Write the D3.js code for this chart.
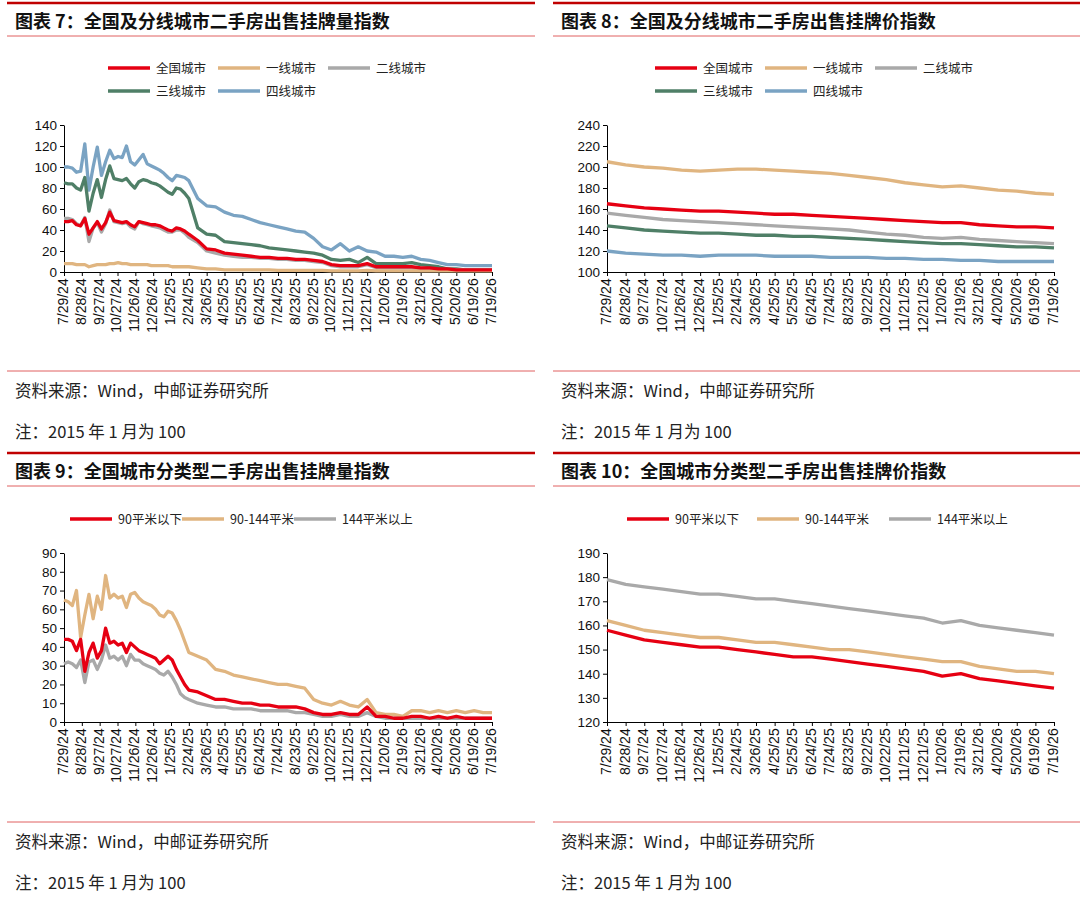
<!DOCTYPE html>
<html><head><meta charset="utf-8">
<script src="https://cdn.jsdelivr.net/npm/d3@7"></script>
<style>body{margin:0;background:#fff}svg{display:block}</style>
</head><body><svg id="c" width="1080" height="908"></svg>
<script>
// ---- data ----
const tickLabels = ["7/29/24","8/28/24","9/27/24","10/27/24","11/26/24","12/26/24","1/25/25","2/24/25","3/26/25","4/25/25","5/25/25","6/24/25","7/24/25","8/23/25","9/22/25","10/22/25","11/21/25","12/21/25","1/20/26","2/19/26","3/21/26","4/20/26","5/20/26","6/19/26","7/19/26"];
// days from 7/29/24: weekly to day 210, then every 15 days
const daysDense = d3.range(0,211,7).concat(d3.range(225,721,15));
const daysMonthly = d3.range(0,721,30);

const vol_all  = [48,48,49,45,44,51,36,42,48,41,47,57,49,48,47,48,45,43,48,47,46,45,45,44,42,40,39,42,41,39,36, 30,22,21,18,17,16,15,14,14,13,13,12,12,11,10,7,6,6,6,8,5,5,5,5,5,4,4,3,3,2,2,2,2,2];
const vol_t1   = [8,8,8,7,7,7,5,6,7,7,7,8,8,9,8,8,7,7,7,7,7,6,6,6,6,6,5,5,5,5,5, 4,3,3,2,2,2,2,2,2,1.5,1.5,1.5,1.5,1.5,1.5,1,1,1,1,1.5,1,1,1,1,1,1,1,1,1,1,1,1,1,1];
const vol_t2   = [51,51,50,46,44,52,29,42,47,38,46,59,48,47,46,47,43,41,48,46,45,44,43,42,40,38,38,40,40,37,33, 28,20,18,16,15,14,14,13,13,12,12,11,11,10,9,6,5,5,5,7,4,4,4,4,4,3,3,2,2,2,2,2,2,2];
const vol_t3   = [85,84,84,80,78,90,58,75,88,71,88,101,89,88,87,89,84,80,86,88,87,85,84,82,79,76,74,80,79,75,70, 42,36,35,29,28,27,26,25,23,22,21,20,19,18,16,12,11,12,9,14,8,8,8,8,9,7,6,5,3,3,2,2,2,2];
const vol_t4   = [100,100,99,95,96,122,78,100,119,92,105,116,108,110,109,120,105,102,107,112,103,101,99,97,94,90,87,92,91,90,87, 70,63,62,57,54,53,50,47,45,43,41,39,38,32,24,21,27,20,24,20,19,15,15,14,15,12,11,9,7,7,6,6,6,6];

const pr_all = [165,163,161,160,159,158,158,157,156,155,155,154,153,152,151,150,149,148,147,147,145,144,143,143,142];
const pr_t1  = [205,202,200,199,197,196,197,198,198,197,196,195,194,192,190,188,185,183,181,182,180,178,177,175,174];
const pr_t2  = [156,154,152,150,149,148,147,146,145,144,143,142,141,140,138,136,135,133,132,133,131,130,129,128,127];
const pr_t3  = [144,142,140,139,138,137,137,136,135,135,134,134,133,132,131,130,129,128,127,127,126,125,124,124,123];
const pr_t4  = [120,118,117,116,116,115,116,116,116,115,115,115,114,114,114,113,113,112,112,111,111,110,110,110,110];

const sv_small = [44,44,43,38,44,27,37,42,34,38,50,42,43,41,42,37,42,40,38,37,36,35,34,31,33,35,33,28,24,20,17, 16,14,12,12,11,10,10,9,9,8,8,8,7,5,4,4,5,4,4,8,3,3,2,2,3,3,2,3,2,3,2,2,2,2];
const sv_mid   = [65,64,62,70,45,57,68,55,67,60,78,66,68,66,67,61,68,69,66,64,63,62,60,57,56,59,58,54,49,43,37, 35,33,28,27,25,24,23,22,21,20,20,19,18,12,10,9,11,9,8,12,5,4,4,3,6,6,5,6,5,6,5,6,5,5];
const sv_big   = [31,32,31,29,33,21,32,33,28,33,41,34,35,33,35,30,36,33,33,31,30,29,28,26,25,27,24,20,15,13,12, 10,9,8,8,7,7,7,6,6,6,6,5,5,4,3,3,4,3,3,5,3,2,2,2,2,2,2,2,2,2,2,2,2,2];

const sp_small = [158,156,154,153,152,151,151,150,149,148,147,147,146,145,144,143,142,141,139,140,138,137,136,135,134];
const sp_mid   = [162,160,158,157,156,155,155,154,153,153,152,151,150,150,149,148,147,146,145,145,143,142,141,141,140];
const sp_big   = [179,177,176,175,174,173,173,172,171,171,170,169,168,167,166,165,164,163,161,162,160,159,158,157,156];

const tierNames = ["全国城市","一线城市","二线城市","三线城市","四线城市"];
const sizeNames = ["90平米以下","90-144平米","144平米以上"];
const C = {red:"#e60012",tan:"#e0b580",gray:"#a9a9a9",green:"#4f7f67",blue:"#7aa3c3"};

const svg = d3.select("#c");
const FONT = "'Noto Sans CJK SC','DejaVu Sans',sans-serif";

function panel(o){
  const g = svg.append("g");
  g.append("line").attr("x1",o.x0).attr("x2",o.x0+o.w).attr("y1",o.hy).attr("y2",o.hy).attr("stroke","#c00000").attr("stroke-width",2.5);
  g.append("text").attr("x",o.x0+8).attr("y",o.hy+25).text(o.title)
    .attr("font-family","'Noto Sans CJK SC',serif").attr("font-weight","bold").attr("font-size",18).attr("fill","#111");
  g.append("line").attr("x1",o.x0).attr("x2",o.x0+o.w).attr("y1",o.hy+33).attr("y2",o.hy+33).attr("stroke","#e06060").attr("stroke-width",1);
  o.legend.forEach(l=>{
    g.append("line").attr("x1",l.x).attr("x2",l.x+42).attr("y1",l.y).attr("y2",l.y).attr("stroke",l.c).attr("stroke-width",3.5);
    g.append("text").attr("x",l.x+48).attr("y",l.y+4.5).text(l.t).attr("font-family",FONT).attr("font-size",12.5).attr("fill","#222");
  });
  const x = d3.scaleLinear().domain([0,720]).range([o.px0,o.px1]);
  const y = d3.scaleLinear().domain(o.yd).range([o.py1,o.py0]);
  const ya = g.append("g").attr("transform",`translate(${o.px0},0)`)
    .call(d3.axisLeft(y).tickValues(d3.range(o.yd[0],o.yd[1]+0.01,o.ys)).tickSize(4).tickSizeOuter(0));
  ya.selectAll("text").attr("font-family","'Liberation Sans',Arial,sans-serif").attr("font-size",13.5).attr("fill","#111");
  ya.select(".domain").attr("stroke","#000");
  const xa = g.append("g").attr("transform",`translate(0,${o.py1})`)
    .call(d3.axisBottom(x).tickValues(daysMonthly).tickFormat((d,i)=>tickLabels[i]).tickSize(4).tickSizeOuter(0));
  xa.select(".domain").attr("stroke","#000");
  xa.selectAll("text").attr("font-family","'Liberation Sans',Arial,sans-serif").attr("font-size",14).attr("fill","#111")
    .attr("transform","rotate(-90)").attr("text-anchor","end").attr("dx","-0.45em").attr("dy","-0.02em").attr("y",0).attr("x",0)
    .attr("dominant-baseline","middle");
  const line = d3.line().x(d=>x(d[0])).y(d=>y(d[1]));
  o.series.slice().reverse().forEach(s=>{
    g.append("path").datum(s.days.map((d,i)=>[d,s.v[i]])).attr("d",line)
      .attr("fill","none").attr("stroke",s.c).attr("stroke-width",3.3).attr("stroke-linejoin","round");
  });
  g.append("line").attr("x1",o.x0).attr("x2",o.x0+o.w).attr("y1",o.fy).attr("y2",o.fy).attr("stroke","#e06060").attr("stroke-width",1);
  g.append("text").attr("x",o.x0+8).attr("y",o.fy+26).text("资料来源：Wind，中邮证券研究所").attr("font-family","'Noto Sans CJK SC',serif").attr("font-size",16.5).attr("fill","#222");
  g.append("text").attr("x",o.x0+8).attr("y",o.fy+67).text("注：2015 年 1 月为 100").attr("font-family","'Noto Sans CJK SC','Liberation Sans',serif").attr("font-size",16.5).attr("fill","#222");
}

function tierLegend(x,y){
  const cols=[C.red,C.tan,C.gray,C.green,C.blue];
  return tierNames.map((t,i)=>({t,c:cols[i],x:x+(i%3)*110,y:y+Math.floor(i/3)*23}));
}
function sizeLegend(x,y,gaps){
  const cols=[C.red,C.tan,C.gray];
  return sizeNames.map((t,i)=>({t,c:cols[i],x:x+gaps[i],y}));
}

panel({x0:7,w:528,hy:3,title:"图表 7：全国及分线城市二手房出售挂牌量指数",legend:tierLegend(108,68),
  px0:64,px1:492,py0:125,py1:272,yd:[0,140],ys:20,fy:371,
  series:[vol_all,vol_t1,vol_t2,vol_t3,vol_t4].map((v,i)=>({v,days:daysDense,c:[C.red,C.tan,C.gray,C.green,C.blue][i]}))});
panel({x0:553,w:527,hy:3,title:"图表 8：全国及分线城市二手房出售挂牌价指数",legend:tierLegend(655,68),
  px0:607,px1:1054,py0:125,py1:272,yd:[100,240],ys:20,fy:371,
  series:[pr_all,pr_t1,pr_t2,pr_t3,pr_t4].map((v,i)=>({v,days:daysMonthly,c:[C.red,C.tan,C.gray,C.green,C.blue][i]}))});
panel({x0:7,w:528,hy:453,title:"图表 9：全国城市分类型二手房出售挂牌量指数",legend:sizeLegend(70,519,[0,112,224]),
  px0:64,px1:492,py0:553,py1:722,yd:[0,90],ys:10,fy:822,
  series:[sv_small,sv_mid,sv_big].map((v,i)=>({v,days:daysDense,c:[C.red,C.tan,C.gray][i]}))});
panel({x0:553,w:527,hy:453,title:"图表 10：全国城市分类型二手房出售挂牌价指数",legend:sizeLegend(627,519,[0,130,262]),
  px0:607,px1:1054,py0:553,py1:722,yd:[120,190],ys:10,fy:822,
  series:[sp_small,sp_mid,sp_big].map((v,i)=>({v,days:daysMonthly,c:[C.red,C.tan,C.gray][i]}))});
</script></body></html>
